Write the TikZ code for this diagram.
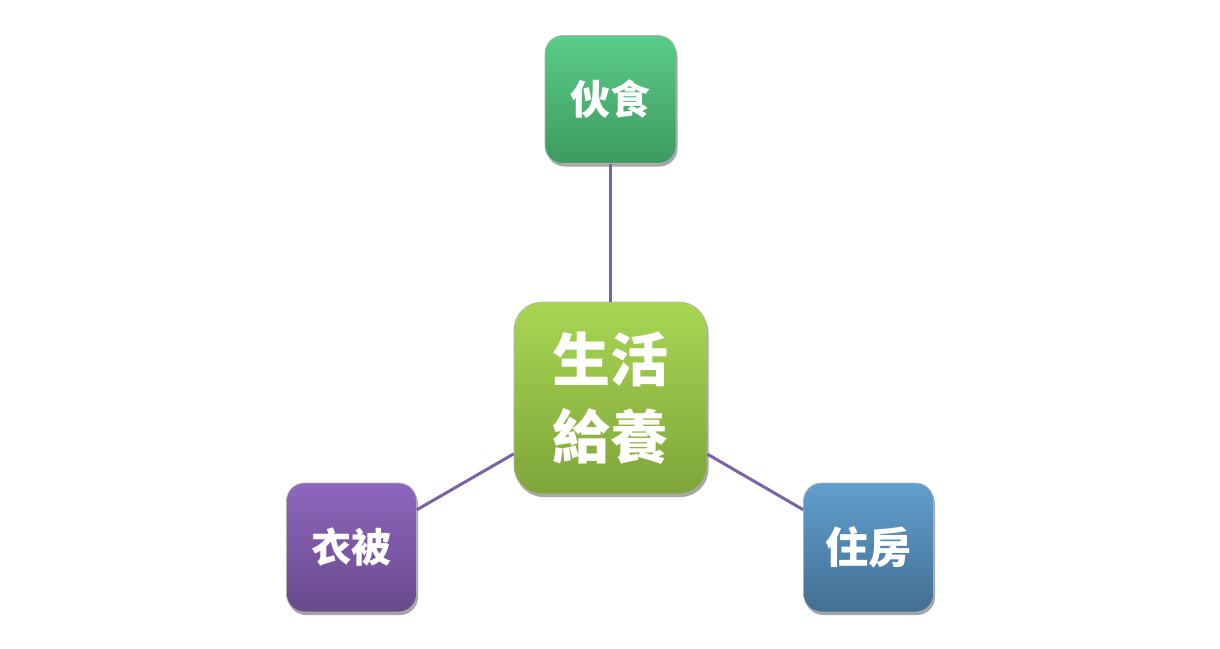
\documentclass[tikz,border=0pt]{standalone}
\usepackage{fontspec}
\newfontfamily\cjk{Noto Sans CJK TC}
\usetikzlibrary{shadows}
\definecolor{linec}{HTML}{7C62A3}
\definecolor{gtop}{HTML}{5ACC88}
\definecolor{gbot}{HTML}{3E9A60}
\definecolor{ctop}{HTML}{A8D653}
\definecolor{cbot}{HTML}{7EA53A}
\definecolor{ptop}{HTML}{8E66BE}
\definecolor{pbot}{HTML}{684A8C}
\definecolor{btop}{HTML}{619FCF}
\definecolor{bbot}{HTML}{436E92}
\tikzset{
  box/.style={draw=white!70!black, line width=0.6pt, minimum width=131pt, minimum height=128pt,
    rounded corners=18pt, text=white, font=\cjk\bfseries\fontsize{40}{48}\selectfont,
    drop shadow={shadow xshift=1.5pt, shadow yshift=-3pt, opacity=0.35, fill=black}, inner sep=0pt, align=center},
  bigbox/.style={box, minimum width=193pt, minimum height=192pt, rounded corners=28pt,
    font=\cjk\bfseries\fontsize{58}{77}\selectfont},
  conn/.style={draw=linec, line width=3pt}
}
\begin{document}
\begin{tikzpicture}[x=1pt,y=-1pt]
\useasboundingbox (0,0) rectangle (1220,648);
\node[bigbox, top color=ctop, bottom color=cbot] (c) at (610.5,398) {生活\\給養};
\node[box, top color=gtop, bottom color=gbot] (t) at (610.5,99.5) {伙食};
\node[box, top color=ptop, bottom color=pbot, minimum width=130pt, minimum height=129pt] (l) at (351.5,547.5) {衣被};
\node[box, top color=btop, bottom color=bbot, minimum width=130pt, minimum height=129pt, font=\cjk\bfseries\fontsize{43}{48}\selectfont] (r) at (868.5,547.5) {住房};
\draw[conn] (t) -- (c);
\draw[conn] (l) -- (c);
\draw[conn] (r) -- (c);
\end{tikzpicture}
\end{document}
